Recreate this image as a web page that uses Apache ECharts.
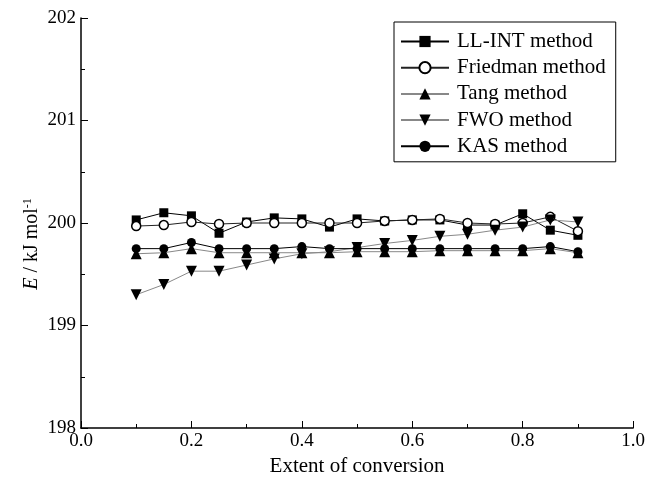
<!DOCTYPE html>
<html>
<head>
<meta charset="utf-8">
<script src="https://cdn.jsdelivr.net/npm/echarts@6/dist/echarts.min.js"></script>
<style>
  html, body { margin: 0; padding: 0; background: #fff; }
  #chart { width: 648px; height: 486px; }
</style>
</head>
<body>
<div id="chart"></div>
<script>
// extent of conversion
var conversion = [0.1, 0.15, 0.2, 0.25, 0.3, 0.35, 0.4, 0.45, 0.5, 0.55, 0.6, 0.65, 0.7, 0.75, 0.8, 0.85, 0.9];
// activation energy, kJ/mol
var llint = [200.03, 200.10, 200.07, 199.90, 200.01, 200.05, 200.04, 199.96, 200.04, 200.02, 200.03, 200.03, 199.98, 199.98, 200.09, 199.93, 199.88];
var friedman = [199.97, 199.98, 200.01, 199.99, 200.00, 200.00, 200.00, 200.00, 200.00, 200.02, 200.03, 200.04, 200.00, 199.99, 200.00, 200.06, 199.92];
var tang = [199.70, 199.71, 199.75, 199.71, 199.71, 199.71, 199.71, 199.71, 199.72, 199.72, 199.72, 199.73, 199.73, 199.73, 199.73, 199.75, 199.71];
var fwo = [199.30, 199.40, 199.53, 199.53, 199.59, 199.65, 199.70, 199.72, 199.76, 199.80, 199.83, 199.87, 199.89, 199.93, 199.96, 200.03, 200.01];
var kas = [199.75, 199.75, 199.81, 199.75, 199.75, 199.75, 199.77, 199.75, 199.75, 199.75, 199.75, 199.75, 199.75, 199.75, 199.75, 199.77, 199.72];

var names = ['LL-INT method', 'Friedman method', 'Tang method', 'FWO method', 'KAS method'];

var font = '"Liberation Serif", "DejaVu Serif", serif';

function pairs(ys) {
    var out = [];
    for (var i = 0; i < conversion.length; i++) {
        out.push([conversion[i], ys[i]]);
    }
    return out;
}

function makeSeries(name, ys, symbol, size, fill, lineColor) {
    return {
        name: name,
        type: 'line',
        data: pairs(ys),
        symbol: symbol,
        symbolSize: size,
        showAllSymbol: true,
        lineStyle: { color: lineColor, width: 1 },
        itemStyle: { color: fill, borderColor: '#000', borderWidth: fill === '#fff' ? 1.5 : 0 },
        emphasis: { disabled: true },
        animation: false
    };
}

var chartDom = echarts.init(document.getElementById('chart'));
chartDom.setOption({
    backgroundColor: '#fff',
    textStyle: { fontFamily: font },
    grid: { left: 81, right: 14, top: 18, bottom: 58 },
    legend: {
        orient: 'vertical',
        left: 394,
        top: 22,
        padding: [9, 10, 5, 6],
        itemGap: 5.2,
        itemWidth: 48,
        itemHeight: 14,
        borderColor: '#000',
        borderWidth: 1,
        backgroundColor: '#fff',
        data: names,
        textStyle: { fontFamily: font, fontSize: 21, color: '#000', lineHeight: 20, padding: [0, 0, 0, 3] }
    },
    xAxis: {
        type: 'value',
        min: 0,
        max: 1,
        interval: 0.2,
        name: 'Extent of conversion',
        nameLocation: 'middle',
        nameGap: 25,
        nameTextStyle: { fontFamily: font, fontSize: 21, color: '#000', verticalAlign: 'top' },
        axisLine: { lineStyle: { color: '#000', width: 1.5 } },
        axisTick: { inside: true, length: 7, lineStyle: { color: '#000', width: 1 } },
        minorTick: { show: true, splitNumber: 2, length: 4, lineStyle: { color: '#000', width: 1 } },
        splitLine: { show: false },
        axisLabel: {
            fontFamily: font, fontSize: 19, color: '#000', margin: 4,
            formatter: function (v) { return v.toFixed(1); }
        }
    },
    yAxis: {
        type: 'value',
        min: 198,
        max: 202,
        interval: 1,
        name: '{i|E} / kJ mol{s|-1}',
        nameLocation: 'middle',
        nameGap: 39,
        nameMoveOverlap: false,
        nameRotate: 90,
        nameTextStyle: {
            fontFamily: font, fontSize: 20, color: '#000',
            padding: [0, 42, 0, 0],
            rich: {
                i: { fontFamily: font, fontSize: 20, fontStyle: 'italic', color: '#000' },
                s: { fontFamily: font, fontSize: 12, color: '#000', verticalAlign: 'top', padding: [0, 0, 8, 0] }
            }
        },
        axisLine: { show: true, lineStyle: { color: '#000', width: 1.5 } },
        axisTick: { show: true, inside: true, length: 7, lineStyle: { color: '#000', width: 1 } },
        minorTick: { show: true, splitNumber: 2, length: 4, lineStyle: { color: '#000', width: 1 } },
        splitLine: { show: false },
        axisLabel: { fontFamily: font, fontSize: 19, color: '#000', margin: 5 }
    },
    series: [
        makeSeries(names[0], llint, 'rect', 9, '#000', '#000'),
        makeSeries(names[1], friedman, 'circle', 9, '#fff', '#222'),
        makeSeries(names[2], tang, 'triangle', 11, '#000', '#888'),
        makeSeries(names[3], fwo, 'path://M0,0 L10,0 L5,9 Z', 11, '#000', '#888'),
        makeSeries(names[4], kas, 'circle', 9, '#000', '#000')
    ]
});
</script>
</body>
</html>
